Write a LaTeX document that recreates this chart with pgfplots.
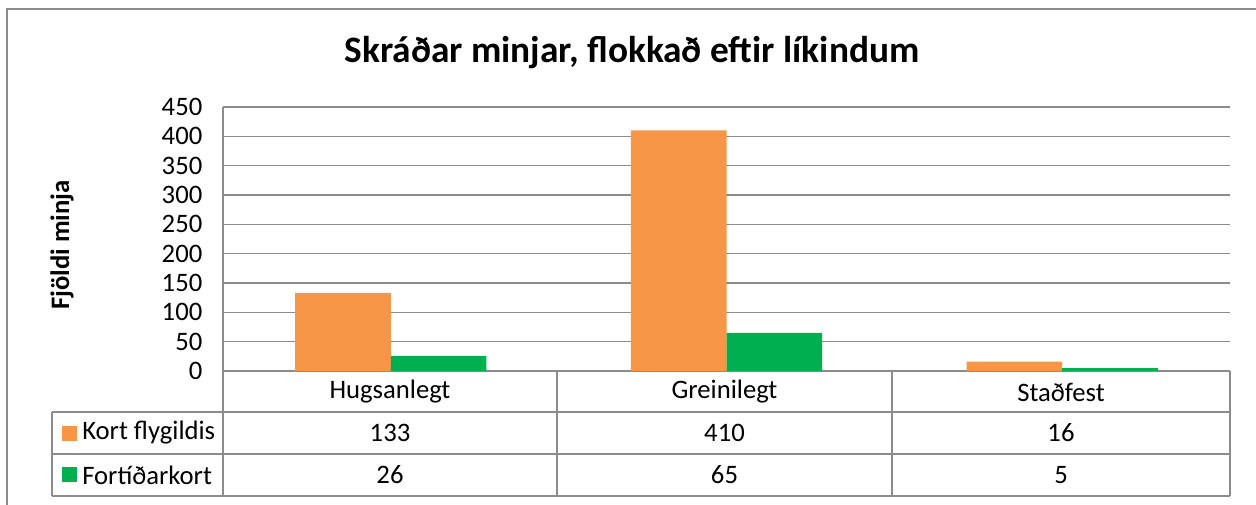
\documentclass[border=0pt]{standalone}
\usepackage{pgfplots}
\pgfplotsset{compat=1.18}
\usepackage{fontspec}
\setmainfont{Carlito}
\definecolor{korange}{HTML}{F79646}
\definecolor{kgreen}{HTML}{00B050}
\definecolor{gridgray}{HTML}{8C8C8C}
\definecolor{tablegray}{HTML}{8C8C8C}
\begin{document}
\begin{tikzpicture}
\useasboundingbox (0,0) rectangle (942pt,-378pt);
\begin{axis}[
  at={(167.25pt,-278.25pt)}, anchor=south west,
  scale only axis, width=755.25pt, height=198pt,
  xmin=-0.5, xmax=2.5, ymin=0, ymax=450,
  ytick={0,50,...,450},
  xtick=\empty,
  ybar=0pt, bar width=71.7pt,
  axis x line*=bottom, axis y line*=left,
  ymajorgrids, grid style={gridgray, line width=1.1pt},
  axis line style={gridgray, line width=1.1pt},
  major tick length=0pt,
  tick label style={font=\fontsize{20}{23}\selectfont},
  /pgf/number format/assume math mode=true,
  yticklabel style={xshift=-12pt},
]
\addplot[fill=korange, draw=none] coordinates {(0,133) (1,410) (2,16)};
\addplot[fill=kgreen, draw=none] coordinates {(0,26) (1,65) (2,5)};
\end{axis}
\begin{scope}[x=0.75pt,y=-0.75pt]
  \draw[gridgray, line width=1.5pt] (7,506) -- (7,8.5) -- (1258,8.5);
  \node[font=\bfseries\fontsize{28}{33}\selectfont] at (632,53) {Skráðar minjar, flokkað eftir líkindum};
  \node[rotate=90, font=\bfseries\fontsize{20}{24}\selectfont] at (62,245) {Fjöldi minja};
  \draw[tablegray, line width=1.1pt]
    (223,371) -- (223,496)
    (557,371) -- (557,496)
    (892,371) -- (892,496)
    (1230,371) -- (1230,496)
    (52,412) -- (1230,412)
    (52,454) -- (1230,454)
    (52,496) -- (1230,496)
    (52,412) -- (52,496);
  \begin{scope}[every node/.style={font=\fontsize{20}{23}\selectfont}]
    \node at (390,392) {Hugsanlegt};
    \node at (724.5,392) {Greinilegt};
    \node at (1061,392) {Staðfest};
    \node at (390,433) {133};
    \node at (724.5,433) {410};
    \node at (1061,433) {16};
    \node at (390,475) {26};
    \node at (724.5,475) {65};
    \node at (1061,475) {5};
    \fill[korange] (62,426) rectangle (77,441);
    \fill[kgreen] (62,467) rectangle (77,482);
    \node[anchor=west, inner sep=0pt] at (82,433) {Kort flygildis};
    \node[anchor=west, inner sep=0pt] at (82,475) {Fortíðarkort};
  \end{scope}
\end{scope}
\end{tikzpicture}
\end{document}
